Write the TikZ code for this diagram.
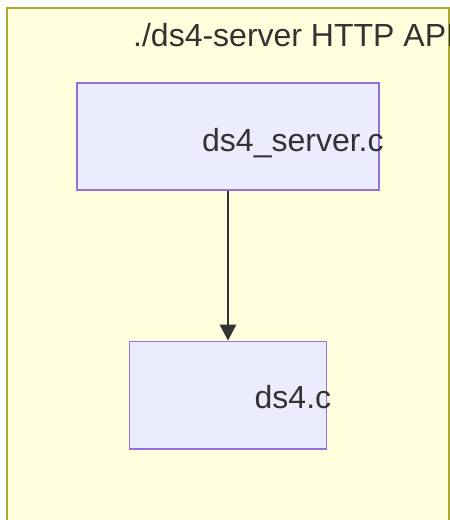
\documentclass[tikz,border=0pt]{standalone}
\usepackage{fontspec}
\setmainfont{Liberation Sans}
\usepackage{xcolor}
\usepackage{tikz}
\usetikzlibrary{arrows.meta}
\usetikzlibrary{positioning}

\definecolor{groupfill}{HTML}{FFFFDE}
\definecolor{groupline}{HTML}{AAAA33}
\definecolor{boxfill}{HTML}{ECECFF}
\definecolor{boxline}{HTML}{9370DB}
\definecolor{ink}{HTML}{333333}

\tikzset{
    filebox/.style={draw=boxline, fill=boxfill, line width=1.5pt, inner sep=0pt},
    filetxt/.style={text=ink, inner sep=0pt, anchor=base west,
        font=\fontsize{32}{38}\selectfont},
    calls/.style={draw=ink, line width=1.6pt,
        -{Triangle[length=16pt, width=16.5pt]}},
}

\begin{document}
\begin{tikzpicture}[x=1pt, y=-1pt]
    \clip (0,0) rectangle (450,520);
    % the subgraph frame
    \draw[groupline, fill=groupfill, line width=1.8pt] (7,8) rectangle (449,560);
    \node[filetxt] (title) at (133,46) {./ds4-server HTTP API};

    \node[filebox, minimum width=302pt, minimum height=107pt] (server) at (228,136.5) {};
    \node[filetxt] (serverlbl) at (202,151) {ds4\_server.c};

    \node[filebox, minimum width=197pt, minimum height=107.5pt] (core) at (228,395) {};
    \node[filetxt] (corelbl) at (254.5,408) {ds4.c};

    \draw[calls] (server.south) -- (core.north);
\end{tikzpicture}
\end{document}
